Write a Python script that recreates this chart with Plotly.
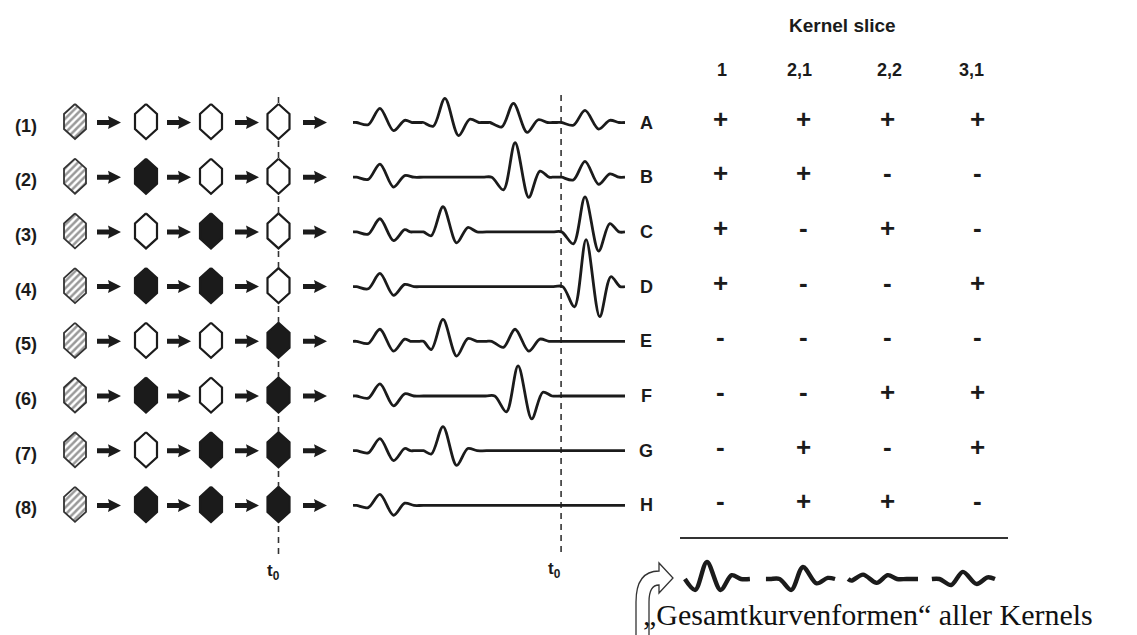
import plotly.graph_objects as go

W, H = 1137, 635

# ---------------- data ----------------
ROW_LABELS = ["(1)", "(2)", "(3)", "(4)", "(5)", "(6)", "(7)", "(8)"]
TRACE_LABELS = ["A", "B", "C", "D", "E", "F", "G", "H"]

# state of the three cells after the hatched source cell: 1 = filled, 0 = open
HEX_STATES = [
    [0, 0, 0],
    [1, 0, 0],
    [0, 1, 0],
    [1, 1, 0],
    [0, 0, 1],
    [1, 0, 1],
    [0, 1, 1],
    [1, 1, 1],
]

HEADER = "Kernel slice"
SLICE_NAMES = ["1", "2,1", "2,2", "3,1"]
SLICE_SIGNS = [
    ["+", "+", "+", "+"],
    ["+", "+", "-", "-"],
    ["+", "-", "+", "-"],
    ["+", "-", "-", "+"],
    ["-", "-", "-", "-"],
    ["-", "-", "+", "+"],
    ["-", "+", "-", "+"],
    ["-", "+", "+", "-"],
]

T0_TIME = 76.5  # t0 on the waveform time axis (0..100)

# wavelets of each trace: (peak time, dip, peak, trough, bump), amplitudes in row heights
WAVE_A = [(9.9, 0.04, 0.26, 0.15, 0.04), (33.8, 0.07, 0.44, 0.24, 0.06),
          (59.0, 0.08, 0.35, 0.18, 0.05), (85.3, 0.05, 0.22, 0.12, 0.04)]
WAVE_B = [(9.9, 0.04, 0.24, 0.18, 0.03), (59.6, 0.23, 0.63, 0.37, 0.11),
          (85.3, 0.05, 0.29, 0.13, 0.06)]
WAVE_C = [(9.9, 0.04, 0.24, 0.16, 0.04), (33.1, 0.07, 0.46, 0.20, 0.08),
          (85.3, 0.22, 0.64, 0.35, 0.15)]
WAVE_D = [(9.9, 0.04, 0.24, 0.16, 0.04), (85.7, 0.37, 0.86, 0.55, 0.18)]
WAVE_E = [(9.9, 0.04, 0.22, 0.18, 0.04), (33.1, 0.15, 0.40, 0.27, 0.05),
          (59.6, 0.11, 0.22, 0.18, 0.04)]
WAVE_F = [(9.9, 0.04, 0.22, 0.18, 0.04), (60.7, 0.29, 0.55, 0.42, 0.07)]
WAVE_G = [(9.9, 0.04, 0.22, 0.18, 0.04), (33.1, 0.06, 0.44, 0.27, 0.04)]
WAVE_H = [(9.9, 0.04, 0.20, 0.18, 0.04)]
WAVES = [WAVE_A, WAVE_B, WAVE_C, WAVE_D, WAVE_E, WAVE_F, WAVE_G, WAVE_H]

# summed waveform per kernel slice: (start, end, wavelets) on the summary time axis
SUM_1 = (1.8, 25.7, [(9.9, 0.20, 0.31, 0.20, 0.07)])
SUM_2 = (31.6, 57.0, [(45.2, 0.20, 0.22, 0.08, 0.02)])
SUM_3 = (61.8, 87.5, [(67.3, 0.03, 0.08, 0.07, 0.07)])
SUM_4 = (92.6, 115.8, [(104.0, 0.11, 0.13, 0.09, 0.03)])
SUMMARY_WAVES = [SUM_1, SUM_2, SUM_3, SUM_4]

CAPTION = "\u201eGesamtkurvenformen\u201c aller Kernels"

# ---------------- geometry / style ----------------
ROW_Y0 = 122.5       # pixel y of the first row baseline
ROW_DY = 54.7        # pixel distance between rows
SUM_ROW = 1 + (579 - ROW_Y0) / ROW_DY
HEX_X = [75, 146, 211, 278.5]
HEX_HW, HEX_HH, HEX_SH = 11, 17.5, 7.5
ARROW_X = [97, 167, 235, 303]
SIGN_X = [720, 803, 887, 977]
HEAD_X = [722, 799, 889, 971]
INK = "#1b1b1b"
SANS = "Liberation Sans, Arial, sans-serif"
SERIF = "Liberation Serif, Times New Roman, serif"
# knot offsets of one wavelet around its peak; the outer two keep the baseline flat
WAVELET_OFFS = [-12.0, -8.6, -4.3, 0.0, 5.0, 9.1, 12.5, 16.0]


def row_px(i):
    return ROW_Y0 + i * ROW_DY


def wave_xy(events, t_start, t_end, row):
    pts = [(t_start, 0.0), (t_end, 0.0)]
    for tp, dip, pk, tr, bump in events:
        amps = [0.0, 0.0, -dip, pk, -tr, bump, 0.0, 0.0]
        for o, a in zip(WAVELET_OFFS, amps):
            t = tp + o
            if t_start < t < t_end:
                pts.append((t, a))
    pts.sort(key=lambda p: p[0])
    return [p[0] for p in pts], [row - p[1] for p in pts]


def hex_xy(cx, cy):
    xs = [cx, cx + HEX_HW, cx + HEX_HW, cx, cx - HEX_HW, cx - HEX_HW, cx]
    ys = [cy - HEX_HH, cy - HEX_SH, cy + HEX_SH, cy + HEX_HH, cy + HEX_SH, cy - HEX_SH, cy - HEX_HH]
    return xs, ys


fig = go.Figure()
shapes = []
annotations = []

for i in range(8):
    cy = row_px(i) - 1
    # hatched source cell
    hx, hy = hex_xy(HEX_X[0], cy)
    fig.add_trace(go.Scatter(
        x=hx, y=hy, mode="lines", fill="toself", fillcolor="white",
        fillpattern=dict(shape="/", fgcolor="#333333", bgcolor="white", size=5, solidity=0.5),
        line=dict(color="#333333", width=1.8), hoverinfo="skip"))
    for k, state in enumerate(HEX_STATES[i]):
        hx, hy = hex_xy(HEX_X[k + 1], cy)
        fig.add_trace(go.Scatter(
            x=hx, y=hy, mode="lines", fill="toself",
            fillcolor=INK if state else "white",
            line=dict(color=INK, width=2.2), hoverinfo="skip"))
    # arrows between cells
    for ax in ARROW_X:
        yc = row_px(i)
        shapes.append(dict(
            type="path", xref="x", yref="y", layer="above",
            path=(f"M {ax},{yc-2.5} L {ax+12},{yc-2.5} L {ax+11},{yc-6.5} L {ax+24},{yc} "
                  f"L {ax+11},{yc+6.5} L {ax+12},{yc+2.5} L {ax},{yc+2.5} Z"),
            fillcolor=INK, line=dict(width=0)))
    # row label
    annotations.append(dict(x=26, y=row_px(i) + 3, xref="x", yref="y",
                            text=f"<b>{ROW_LABELS[i]}</b>",
                            showarrow=False, font=dict(family=SANS, size=18, color=INK),
                            xanchor="center", yanchor="middle"))
    # waveform
    wx, wy = wave_xy(WAVES[i], 0, 100, i + 1)
    fig.add_trace(go.Scatter(x=wx, y=wy, xaxis="x2", yaxis="y2", mode="lines",
                             line=dict(color=INK, width=2.8, shape="spline", smoothing=0.9),
                             hoverinfo="skip"))
    annotations.append(dict(x=646, y=row_px(i), xref="x", yref="y",
                            text=f"<b>{TRACE_LABELS[i]}</b>",
                            showarrow=False, font=dict(family=SANS, size=18, color=INK),
                            xanchor="center", yanchor="middle"))
    # kernel slice signs
    for j, s in enumerate(SLICE_SIGNS[i]):
        annotations.append(dict(x=SIGN_X[j], y=row_px(i) - 4, xref="x", yref="y",
                                text=f"<b>{s}</b>",
                                showarrow=False, font=dict(family=SANS, size=26, color=INK),
                                xanchor="center", yanchor="middle"))

# summary waveforms of the kernel slices
for t_start, t_end, ev in SUMMARY_WAVES:
    sx, sy = wave_xy(ev, t_start, t_end, SUM_ROW)
    fig.add_trace(go.Scatter(x=sx, y=sy, xaxis="x3", yaxis="y2", mode="lines",
                             line=dict(color=INK, width=4.4, shape="spline", smoothing=0.9),
                             hoverinfo="skip"))

# dashed t0 lines
shapes.append(dict(type="line", xref="x", yref="y", x0=HEX_X[3], x1=HEX_X[3], y0=97, y1=556,
                   line=dict(color="#333333", width=1.6, dash="6px,5px"), layer="below"))
shapes.append(dict(type="line", xref="x2", yref="y", x0=T0_TIME, x1=T0_TIME, y0=95, y1=556,
                   line=dict(color="#333333", width=1.6, dash="6px,5px"), layer="below"))
annotations.append(dict(x=273, y=572, xref="x", yref="y", text="<b>t<sub>0</sub></b>",
                        showarrow=False, font=dict(family=SANS, size=17, color=INK)))
annotations.append(dict(x=554, y=570, xref="x", yref="y", text="<b>t<sub>0</sub></b>",
                        showarrow=False, font=dict(family=SANS, size=17, color=INK)))

# table header
annotations.append(dict(x=842, y=25, xref="x", yref="y", text=f"<b>{HEADER}</b>",
                        showarrow=False, font=dict(family=SANS, size=19, color=INK)))
for j, name in enumerate(SLICE_NAMES):
    annotations.append(dict(x=HEAD_X[j], y=70, xref="x", yref="y", text=f"<b>{name}</b>",
                            showarrow=False, font=dict(family=SANS, size=18, color=INK)))

# rule above the summed waveforms
shapes.append(dict(type="line", xref="x", yref="y", x0=680, x1=1008, y0=538, y1=538,
                   line=dict(color="#333333", width=2)))

# hollow bent arrow pointing at the summed waveforms
shapes.append(dict(
    type="path", xref="x", yref="y",
    path=("M 636,640 L 636,602 Q 636,571 659,571 L 659,563 L 673,578 L 659,593 L 659,585 "
          "Q 649,585 649,602 L 649,640 Z"),
    fillcolor="white", line=dict(color="#333333", width=1.3)))

annotations.append(dict(x=641, y=614, xref="x", yref="y", text=CAPTION, showarrow=False,
                        xanchor="left", yanchor="middle",
                        font=dict(family=SERIF, size=30, color="#111111")))

fig.update_layout(
    width=W, height=H, margin=dict(l=0, r=0, t=0, b=0),
    paper_bgcolor="white", plot_bgcolor="rgba(0,0,0,0)", showlegend=False,
    xaxis=dict(range=[0, W], domain=[0, 1], visible=False, fixedrange=True),
    yaxis=dict(range=[H, 0], domain=[0, 1], visible=False, fixedrange=True),
    xaxis2=dict(range=[0, 100], domain=[353 / W, 625 / W], anchor="y2", visible=False),
    xaxis3=dict(range=[0, 328 / 2.72], domain=[680 / W, 1008 / W], anchor="y2", visible=False),
    yaxis2=dict(range=[1 + (H - ROW_Y0) / ROW_DY, 1 - ROW_Y0 / ROW_DY], domain=[0, 1],
                anchor="x2", visible=False),
    shapes=shapes, annotations=annotations,
)

fig.write_html("out.html")
